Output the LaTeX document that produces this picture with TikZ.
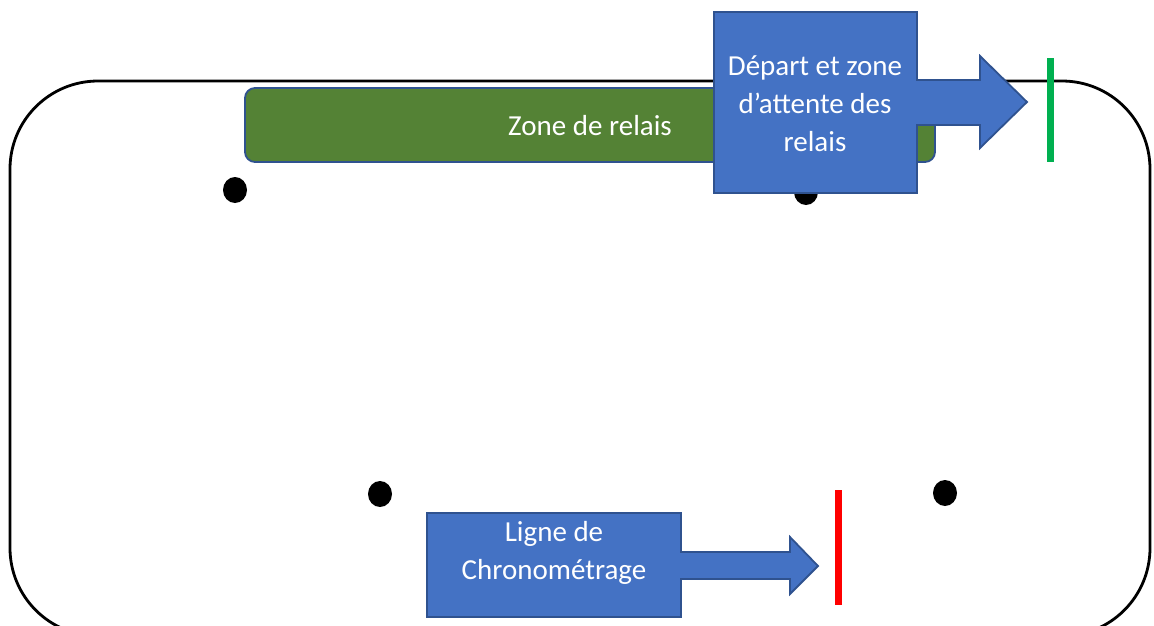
\documentclass[tikz,border=0pt]{standalone}
\usepackage{fontspec}
\setmainfont{Carlito}
\definecolor{callblue}{HTML}{4472C4}
\definecolor{callborder}{HTML}{2F528F}
\definecolor{zonegreen}{HTML}{548235}
\definecolor{startgreen}{HTML}{00B050}
\definecolor{chronored}{HTML}{FF0000}
\tikzset{
  track/.style={draw=black, line width=2.8},
  callout/.style={fill=callblue, draw=callborder, line width=1.8, line join=miter},
  zonebox/.style={fill=zonegreen, draw=callborder, line width=1.8, rounded corners=10},
  label/.style={text=white, align=center, font=\fontsize{29}{38}\selectfont, inner sep=0},
  marker/.style={fill=black, draw=none},
  finish/.style={line width=7},
}
\begin{document}
\begin{tikzpicture}[x=1pt,y=-1pt]
\path[use as bounding box] (0,0) rectangle (1154,625);
% track
\draw[track, rounded corners=88] (10,81) rectangle (1150,636);
% relay zone
\draw[zonebox] (245,88) rectangle (935,162);
\node[label] (zone) at (590,126) {Zone de relais};
% markers
\fill[marker] (235,190) ellipse (12 and 13);
\fill[marker] (806,192) ellipse (12 and 13);
\fill[marker] (380,494) ellipse (12 and 13);
\fill[marker] (945,493) ellipse (12 and 13);
% start callout
\draw[callout] (714,12) -- (917,12) -- (917,80) -- (980,80) -- (980,56) -- (1027,102)
  -- (980,148) -- (980,125) -- (917,125) -- (917,193) -- (714,193) -- cycle;
\node[label] (depart) at (815,104) {Départ et zone\\d’attente des\\relais};
\draw[finish, startgreen] (1050,58) -- (1050,162);
% timing callout
\draw[callout] (427,513) -- (681,513) -- (681,552) -- (790,552) -- (790,537) -- (818,566)
  -- (790,594) -- (790,579) -- (681,579) -- (681,617) -- (427,617) -- cycle;
\node[label] (chrono) at (554,553) {Ligne de\\Chronométrage};
\draw[finish, chronored] (838,490) -- (838,605);
\end{tikzpicture}
\end{document}
